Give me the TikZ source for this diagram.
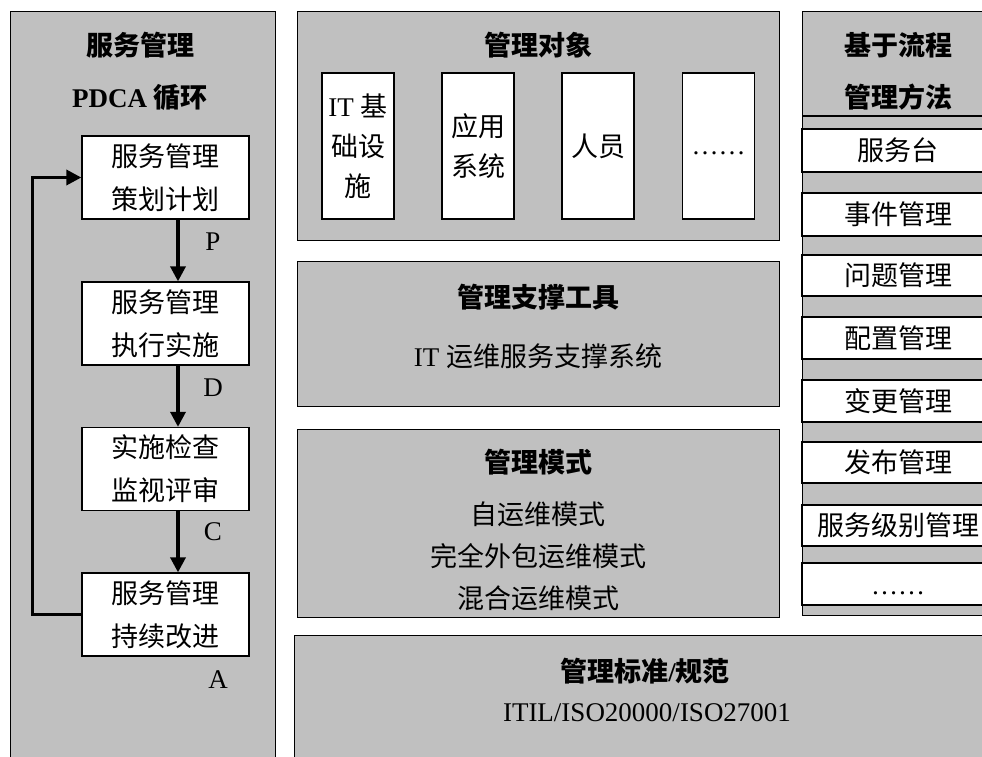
\documentclass[tikz,border=0pt]{standalone}
\usepackage{fontspec}
\setmainfont{Liberation Serif}
\newfontfamily\cjk{Noto Sans CJK SC}
\usetikzlibrary{arrows.meta}
\definecolor{pg}{RGB}{192,192,192}
\begin{document}
\begin{tikzpicture}[x=1pt,y=-1pt,
 panel/.style={draw, fill=pg, line width=1.3pt, anchor=north west, inner sep=0pt},
 wbox/.style={draw, fill=white, line width=1.3pt, inner sep=0pt},
 txt/.style={font=\fontsize{27}{43}\selectfont, align=center, inner sep=0pt},
 ttl/.style={font=\fontsize{27}{52}\selectfont\bfseries, align=center, inner sep=0pt},
 lbl/.style={font=\fontsize{27}{30}\selectfont, inner sep=0pt},
 arr/.style={line width=3.4pt, -{Triangle[length=15pt,width=15pt]}},
 strip/.style={wbox, txt, minimum width=192pt},
]
\path[use as bounding box] (0,0) rectangle (982,756);
\begin{scope}
\clip (0,0) rectangle (982,756);
% left panel
\node[panel, minimum width=265pt, minimum height=770pt] (lp) at (10,11) {};
\node[ttl] (lt) at (140,71) {{\cjk 服务管理}\\PDCA {\cjk 循环}};
\node[wbox, txt, minimum width=167pt, minimum height=83pt] (b1) at (165.5,177.5) {{\cjk 服务管理}\\{\cjk 策划计划}};
\node[wbox, txt, minimum width=167pt, minimum height=83pt] (b2) at (165.5,323.5) {{\cjk 服务管理}\\{\cjk 执行实施}};
\node[wbox, txt, minimum width=167pt, minimum height=83pt] (b3) at (165.5,469) {{\cjk 实施检查}\\{\cjk 监视评审}};
\node[wbox, txt, minimum width=167pt, minimum height=83pt] (b4) at (165.5,614.5) {{\cjk 服务管理}\\{\cjk 持续改进}};
\draw[arr] ([xshift=12.5pt]b1.south) -- ([xshift=12.5pt]b2.north);
\draw[arr] ([xshift=12.5pt]b2.south) -- ([xshift=12.5pt]b3.north);
\draw[arr] ([xshift=12.5pt]b3.south) -- ([xshift=12.5pt]b4.north);
\draw[arr] (b4.west) -- ++(-49,0) |- (b1.west);
\node[lbl] (lP) at (213,242) {P};
\node[lbl] (lD) at (213,388) {D};
\node[lbl] (lC) at (213,532) {C};
\node[lbl] (lA) at (218,680) {A};
% management objects
\node[panel, minimum width=482pt, minimum height=229pt] (mo) at (297,11) {};
\node[ttl] (mot) at (538,45) {{\cjk 管理对象}};
\node[wbox, txt, font=\fontsize{27}{40}\selectfont, minimum width=72pt, minimum height=146pt] (o1) at (358,146) {IT {\cjk 基}\\{\cjk 础设}\\{\cjk 施}};
\node[wbox, txt, font=\fontsize{27}{40}\selectfont, minimum width=72pt, minimum height=146pt] (o2) at (478,146) {{\cjk 应用}\\{\cjk 系统}};
\node[wbox, txt, minimum width=72pt, minimum height=146pt] (o3) at (598,146) {{\cjk 人员}};
\node[wbox, minimum width=72pt, minimum height=146pt] (o4) at (718.5,146) {};
\node[txt] (o4t) at ([yshift=-7pt]o4.center) {……};
% tools
\node[panel, minimum width=482pt, minimum height=145pt] (mt) at (297,261) {};
\node[ttl] (mtt) at (538,297) {{\cjk 管理支撑工具}};
\node[txt] (mts) at (538,356) {IT {\cjk 运维服务支撑系统}};
% modes
\node[panel, minimum width=482pt, minimum height=188pt] (mm) at (297,429) {};
\node[ttl] (mmt) at (538,462) {{\cjk 管理模式}};
\node[txt, font=\fontsize{27}{42}\selectfont] (mms) at (538,556) {{\cjk 自运维模式}\\{\cjk 完全外包运维模式}\\{\cjk 混合运维模式}};
% standards
\node[panel, minimum width=710pt, minimum height=140pt] (bp) at (294,635) {};
\node[ttl] (bpt) at (645,671) {{\cjk 管理标准}/{\cjk 规范}};
\node[txt] (bps) at (647,713) {ITIL/ISO20000/ISO27001};
% right panel
\node[panel, minimum width=192pt, minimum height=604pt] (rp) at (802,11) {};
\node[ttl] (rpt) at (898,71) {{\cjk 基于流程}\\{\cjk 管理方法}};
\draw[line width=1.3pt] (802,116) -- (994,116);
\node[strip, minimum height=43pt] (s1) at (898,150.5) {{\cjk 服务台}};
\node[strip, minimum height=43pt] (s2) at (898,214.5) {{\cjk 事件管理}};
\node[strip, minimum height=41pt] (s3) at (898,275.5) {{\cjk 问题管理}};
\node[strip, minimum height=42pt] (s4) at (898,338) {{\cjk 配置管理}};
\node[strip, minimum height=42pt] (s5) at (898,401) {{\cjk 变更管理}};
\node[strip, minimum height=41pt] (s6) at (898,462.5) {{\cjk 发布管理}};
\node[strip, minimum height=41pt] (s7) at (898,525.5) {{\cjk 服务级别管理}};
\node[strip, minimum height=42pt] (s8) at (898,584) {};
\node[txt] (s8t) at ([yshift=-9pt]s8.center) {……};
\end{scope}
\end{tikzpicture}
\end{document}
